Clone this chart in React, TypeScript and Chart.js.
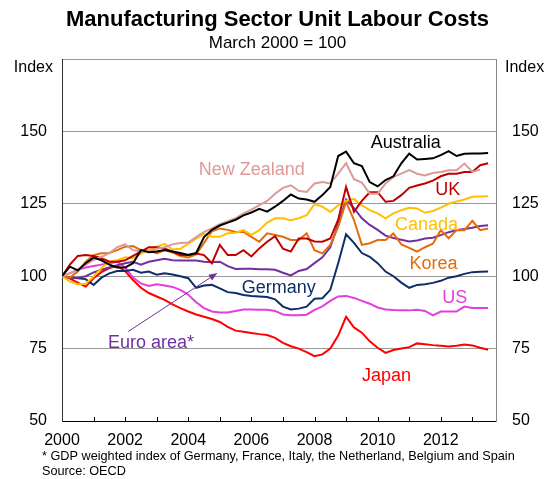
import React, { useEffect, useRef } from 'react';
import { Chart, registerables } from 'chart.js';

Chart.register(...registerables);

const FONT = '"Liberation Sans", Arial, Helvetica, sans-serif';

// Quarterly observations, March 2000 to September 2013
const quarters: number[] = Array.from({ length: 55 }, (_, i) => 2000 + i * 0.25);

const australia = [100, 103.3, 102, 104.5, 106.4, 105.5, 104, 103, 103, 104.5, 109, 108.3, 108.5, 109, 108.5, 108, 107.3, 108, 113.5, 116, 117.5, 118.5, 119.5, 121, 122, 123.3, 122.3, 124, 126, 128.2, 126.8, 126.5, 125.7, 128, 130.8, 141.5, 143, 139, 138, 132.5, 131, 133.2, 134.5, 139, 142.3, 140.3, 140.5, 140.7, 141.8, 143.2, 141.5, 142.3, 142.4, 142.4, 142.5];
const newZealand = [100, 101, 102.4, 104, 105.6, 106.7, 108, 110, 111, 109, 108.5, 108.5, 109.5, 110, 111, 111.5, 111.6, 113.5, 115.3, 116.5, 118, 119, 120, 121.7, 123, 124.5, 126, 128.5, 130.5, 131.4, 129.5, 129.1, 132, 132.5, 132, 135.4, 139, 133.5, 132.3, 128.5, 128.5, 132, 134.3, 135.4, 136.6, 135.4, 134.8, 135.6, 136, 136.6, 136.6, 138.9, 136, 136.8, null];
const uk = [100, 104, 107, 107.3, 107, 106.2, 105, 105, 105.5, 107, 108.5, 110, 110, 109.6, 108.5, 107.3, 107.3, 107.8, 107.3, 104.5, 110.8, 107.3, 107.3, 109, 106.8, 109.6, 111.9, 113.8, 109.5, 108.5, 113, 113, 112, 111.9, 113, 119.5, 130.8, 122.2, 126, 129, 129, 125.7, 126, 128, 130.5, 131.3, 132, 133, 134.5, 135.4, 135.4, 136, 136, 138.3, 139];
const canada = [100, 98.1, 97.2, 97.4, 99.9, 102.8, 105, 105.5, 106.5, 106.2, 107.8, 109, 110.2, 111.2, 109.2, 109.5, 111.2, 113, 114.6, 113.6, 113.6, 114.8, 115, 115.9, 114.3, 115.9, 118.5, 120, 120, 119.3, 120, 121.1, 124.9, 124, 122.2, 124.5, 126, 126.7, 124.5, 122.8, 121.7, 120, 121.7, 122.8, 123.6, 123.4, 121.9, 122.5, 123.7, 125, 125.8, 126.5, 127.4, 127.5, 127.6];
const korea = [100, 99.5, 101.6, 105, 107.3, 107.9, 108, 109, 110.2, 110.4, 109, 109, 107.9, 109, 108.2, 107, 106.5, 107.5, 111.5, 115.5, 116.5, 116, 115.3, 115.3, 113.6, 111.9, 114.8, 114.2, 113.6, 112.5, 112.5, 114.8, 109, 107.9, 110.8, 117, 125.7, 119.4, 110.8, 111.4, 112.5, 112.5, 114.8, 111, 109.8, 108.5, 110, 111.2, 115.9, 113.1, 115.9, 115.9, 119.1, 115.9, 116.5];
const euroArea = [100, 99.5, 99.5, 100, 101.3, 102.2, 103, 103.8, 104.5, 105, 104, 105, 105.5, 106, 105.5, 105.4, 105.4, 105.4, 105, 104.8, 105, 103.5, 102.5, 102.6, 102.6, 102.4, 102.4, 102.2, 101.2, 100.3, 101.8, 102.5, 104.5, 106.5, 110, 118, 126.5, 123.5, 120, 117.7, 116, 114, 113.2, 112.6, 112, 112.3, 113, 113.3, 114.2, 115.2, 115.9, 116.3, 116.7, 117.3, 117.6];
const germany = [100, 99.6, 99.3, 99, 97, 99.5, 101, 101.8, 101.8, 102.2, 101.2, 101.6, 100.5, 101, 100.6, 100, 99.3, 96, 96.8, 97, 95.8, 94.5, 94.2, 93.5, 93.2, 93, 92.8, 92, 89.5, 88.5, 88.8, 89.5, 92.2, 92.4, 95.3, 104.5, 114.5, 111.5, 108, 106.7, 104.5, 101.6, 100, 97.8, 96, 97, 97.2, 97.7, 98.4, 99.5, 100, 100.8, 101.4, 101.5, 101.6];
const us = [100, 101, 102.2, 103, 103.5, 104, 104.5, 105, 103, 99.5, 97.5, 96.6, 97.2, 96.8, 96.3, 95.3, 93.6, 91, 89, 87.8, 87.5, 87.5, 88, 88.5, 88.5, 88.4, 88.4, 88, 86.8, 86.5, 86.5, 86.7, 88.4, 89.6, 91.5, 93, 93.2, 92.5, 91.5, 90.5, 89.2, 88.5, 88.3, 88.2, 88.2, 88.4, 88, 86.5, 87.8, 87.8, 87.8, 89.5, 89, 89, 89];
const japan = [100, 99.2, 97.8, 96.4, 99.3, 101.4, 102.8, 103.5, 101.8, 98.7, 96, 94.2, 93, 91.8, 90.3, 89, 87.8, 86.8, 86, 85.2, 84.2, 82.5, 81.2, 80.8, 80.4, 80, 79.7, 78.7, 77, 75.8, 75, 73.8, 72.4, 73, 75, 79.5, 86, 82.3, 80.5, 77.5, 75.3, 73.5, 74.5, 75, 75.5, 76.8, 76.5, 76.2, 76, 75.7, 76, 76.4, 76.1, 75.3, 74.6];

const xTickYears = [2000, 2001, 2002, 2003, 2004, 2005, 2006, 2007, 2008, 2009, 2010, 2011, 2012, 2013];
const xLabelYears = [2000, 2002, 2004, 2006, 2008, 2010, 2012];
const yTicks = [50, 75, 100, 125, 150, 175];
const yLabels = [50, 75, 100, 125, 150];

const seriesDefs = [
  { name: 'Australia', data: australia, color: '#000000' },
  { name: 'New Zealand', data: newZealand, color: '#dc9a98' },
  { name: 'UK', data: uk, color: '#c00000' },
  { name: 'Canada', data: canada, color: '#ffc000' },
  { name: 'Korea', data: korea, color: '#e46c0a' },
  { name: 'Euro area*', data: euroArea, color: '#7030a0' },
  { name: 'Germany', data: germany, color: '#0f2d69' },
  { name: 'US', data: us, color: '#e23fdc' },
  { name: 'Japan', data: japan, color: '#ff0000' },
];

// Label anchors in data coordinates (year, index value)
const seriesLabels = [
  { text: 'Australia', year: 2010.89, value: 146.5, color: '#000000' },
  { text: 'New Zealand', year: 2006.01, value: 137.3, color: '#dc9a98' },
  { text: 'UK', year: 2012.22, value: 130.4, color: '#c00000' },
  { text: 'Canada', year: 2011.55, value: 118.3, color: '#ffc000' },
  { text: 'Korea', year: 2011.77, value: 104.6, color: '#e46c0a' },
  { text: 'Germany', year: 2006.87, value: 96.3, color: '#0f2d69' },
  { text: 'US', year: 2012.44, value: 92.9, color: '#e23fdc' },
  { text: 'Euro area*', year: 2002.82, value: 77.4, color: '#7030a0' },
  { text: 'Japan', year: 2010.28, value: 66.0, color: '#ff0000' },
];
const euroArrow = { fromYear: 2002.1, fromValue: 80.9, toYear: 2004.91, toValue: 101 };

const titleText = 'Manufacturing Sector Unit Labour Costs';
const subtitleText = 'March 2000 = 100';
const footnote = '* GDP weighted index of Germany, France, Italy, the Netherland, Belgium and Spain';
const sourceText = 'Source: OECD';

const annotatePlugin = {
  id: 'annotate',
  afterDatasetsDraw(chart: any) {
    const { ctx, chartArea } = chart;
    const x = chart.scales.x;
    const y = chart.scales.y;
    ctx.save();
    // inner tick marks on the bottom axis
    ctx.strokeStyle = '#000';
    ctx.lineWidth = 1;
    for (const yr of xTickYears) {
      if (yr === xTickYears[0]) continue;
      const px = Math.round(x.getPixelForValue(yr)) + 0.5;
      ctx.beginPath();
      ctx.moveTo(px, chartArea.bottom);
      ctx.lineTo(px, chartArea.bottom - 4);
      ctx.stroke();
    }
    // series labels
    ctx.font = `18px ${FONT}`;
    ctx.textAlign = 'center';
    ctx.textBaseline = 'alphabetic';
    for (const l of seriesLabels) {
      ctx.fillStyle = l.color;
      ctx.fillText(l.text, x.getPixelForValue(l.year), y.getPixelForValue(l.value) + 6.5);
    }
    // arrow for the euro area label
    const x1 = x.getPixelForValue(euroArrow.fromYear);
    const y1 = y.getPixelForValue(euroArrow.fromValue);
    const x2 = x.getPixelForValue(euroArrow.toYear);
    const y2 = y.getPixelForValue(euroArrow.toValue);
    ctx.strokeStyle = '#7030a0';
    ctx.fillStyle = '#7030a0';
    ctx.lineWidth = 1;
    ctx.beginPath();
    ctx.moveTo(x1, y1);
    ctx.lineTo(x2, y2);
    ctx.stroke();
    const ang = Math.atan2(y2 - y1, x2 - x1);
    const hl = 8, hw = 3.5;
    ctx.beginPath();
    ctx.moveTo(x2, y2);
    ctx.lineTo(x2 - hl * Math.cos(ang) + hw * Math.sin(ang), y2 - hl * Math.sin(ang) - hw * Math.cos(ang));
    ctx.lineTo(x2 - hl * Math.cos(ang) - hw * Math.sin(ang), y2 - hl * Math.sin(ang) + hw * Math.cos(ang));
    ctx.closePath();
    ctx.fill();
    ctx.restore();
  },
  afterDraw(chart: any) {
    const { ctx, chartArea } = chart;
    const w = chart.width;
    ctx.save();
    ctx.fillStyle = '#000';
    ctx.textAlign = 'center';
    ctx.textBaseline = 'alphabetic';
    ctx.font = `bold 22px ${FONT}`;
    ctx.fillText(titleText, w / 2, 26);
    ctx.font = `17px ${FONT}`;
    ctx.fillText(subtitleText, w / 2, 48);
    ctx.font = `16px ${FONT}`;
    ctx.textAlign = 'right';
    ctx.fillText('Index', chartArea.left - 9, 72);
    ctx.textAlign = 'left';
    ctx.fillText('Index', chartArea.right + 9, 72);
    ctx.font = `12.7px ${FONT}`;
    ctx.fillText(footnote, 42, 460);
    ctx.fillText(sourceText, 42, 475);
    ctx.restore();
  },
};

export default function App() {
  const ref = useRef<HTMLCanvasElement | null>(null);
  useEffect(() => {
    document.body.style.margin = '0';
    const canvas = ref.current;
    if (!canvas) return;
    const chart = new Chart(canvas, {
      type: 'line',
      data: {
        datasets: seriesDefs.map((s) => ({
          label: s.name,
          data: s.data.map((v, i) => ({ x: quarters[i], y: v })) as any,
          borderColor: s.color,
          backgroundColor: s.color,
          borderWidth: 2,
          pointRadius: 0,
          tension: 0,
          fill: false,
          spanGaps: false,
        })),
      },
      options: {
        animation: false,
        responsive: false,
        devicePixelRatio: 1,
        layout: { padding: { top: 59, left: 0, right: 0, bottom: 0 } },
        plugins: {
          legend: { display: false },
          tooltip: { enabled: false },
          title: { display: false },
        },
        scales: {
          x: {
            type: 'linear',
            min: 2000,
            max: 2013.75,
            afterBuildTicks: (s: any) => {
              s.ticks = xTickYears.map((v) => ({ value: v }));
            },
            afterFit: (s: any) => {
              s.height = 58;
            },
            ticks: {
              autoSkip: false,
              maxRotation: 0,
              padding: 10,
              color: '#000',
              font: { family: FONT, size: 16 },
              callback: (v: any) => (xLabelYears.includes(Number(v)) ? String(v) : ''),
            },
            grid: { display: true, drawOnChartArea: false, drawTicks: false },
            border: { display: true, color: '#000', width: 1 },
          },
          y: {
            position: 'left',
            min: 50,
            max: 175,
            afterBuildTicks: (s: any) => {
              s.ticks = yTicks.map((v) => ({ value: v }));
            },
            afterFit: (s: any) => {
              s.width = 62;
            },
            ticks: {
              padding: 15,
              color: '#000',
              font: { family: FONT, size: 16 },
              callback: (v: any) => (yLabels.includes(Number(v)) ? String(v) : ''),
            },
            grid: {
              drawTicks: false,
              color: (c: any) => (c.tick && c.tick.value === 50 ? 'rgba(0,0,0,0)' : '#999999'),
              lineWidth: 1,
            },
            border: { display: true, color: '#333333', width: 1 },
          },
          y2: {
            position: 'right',
            min: 50,
            max: 175,
            afterBuildTicks: (s: any) => {
              s.ticks = yTicks.map((v) => ({ value: v }));
            },
            afterFit: (s: any) => {
              s.width = 59;
            },
            ticks: {
              padding: 16,
              color: '#000',
              font: { family: FONT, size: 16 },
              callback: (v: any) => (yLabels.includes(Number(v)) ? String(v) : ''),
            },
            grid: { drawOnChartArea: false, drawTicks: false },
            border: { display: true, color: '#888888', width: 1 },
          },
        },
      },
      plugins: [annotatePlugin],
    });
    return () => chart.destroy();
  }, []);
  return (
    <div style={{ position: 'fixed', left: 0, top: 0, width: 555, height: 479, background: '#fff' }}>
      <canvas ref={ref} width={555} height={479} style={{ display: 'block', width: 555, height: 479 }} />
    </div>
  );
}
